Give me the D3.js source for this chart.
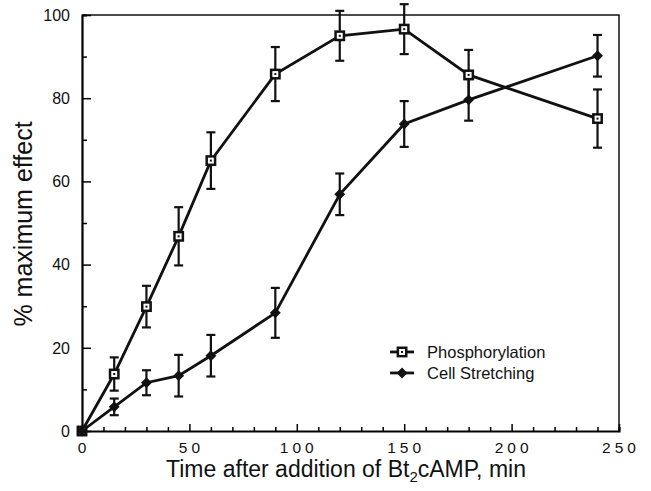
<!DOCTYPE html>
<html>
<head>
<meta charset="utf-8">
<script src="https://cdn.jsdelivr.net/npm/d3@7"></script>
<style>
  body { margin: 0; background: #fff; }
  text { font-family: "Liberation Sans", Arial, sans-serif; fill: #111; }
</style>
</head>
<body>
<div class="chart"></div>
<script>
// time points (min)
const times = [0, 15, 30, 45, 60, 90, 120, 150, 180, 240];
// phosphorylation, % max effect, and error
const phos = [0, 13.7, 29.9, 46.8, 65, 85.8, 95, 96.6, 85.6, 75.1];
const phosErr = [0, 4, 5, 7, 6.8, 6.5, 6, 6, 6, 7];
// cell stretching, % max effect, and error
const stretch = [0, 5.8, 11.6, 13.3, 18.1, 28.4, 56.9, 73.8, 79.6, 90.2];
const stretchErr = [0, 2, 3, 5, 5, 6, 5, 5.5, 5, 5];
const xTicks = [0, 50, 100, 150, 200, 250];
const yTicks = [0, 20, 40, 60, 80, 100];

function chart() {
    const margin = { top: 15, right: 32, bottom: 60, left: 82 },
        width = 651 - margin.left - margin.right,
        height = 491 - margin.top - margin.bottom;

    const svg = d3.select(".chart")
        .append("svg")
        .attr("width", 651)
        .attr("height", 491)
        .append("g")
        .attr("transform", `translate(${margin.left},${margin.top})`);

    const x = d3.scaleLinear().domain([0, 250]).range([0, width]);
    const y = d3.scaleLinear().domain([0, 100]).range([height, 0]);

    // frame: top and right thin
    svg.append("path")
        .attr("d", `M0,0H${width}V${height}`)
        .attr("fill", "none")
        .attr("stroke", "#111")
        .attr("stroke-width", 1.5);

    // x axis, ticks pointing inward
    const xAxis = svg.append("g")
        .attr("transform", `translate(0,${height})`)
        .call(d3.axisTop(x).tickValues(d3.range(0, 251, 10)).tickSize(4).tickFormat(""));
    xAxis.selectAll(".tick line")
        .attr("y2", d => d % 50 === 0 ? -7 : -4)
        .attr("stroke-width", 1.5);
    xAxis.select(".domain").attr("stroke-width", 2.2);

    const ls = 4;
    svg.append("g")
        .selectAll("text")
        .data(xTicks)
        .join("text")
        .attr("x", d => x(d))
        .attr("dx", ls / 2)
        .attr("y", height + 22)
        .attr("text-anchor", "middle")
        .attr("font-size", 15.5)
        .attr("letter-spacing", ls)
        .text(d => d);

    // y axis, ticks pointing inward
    const yAxis = svg.append("g")
        .call(d3.axisRight(y).tickValues(d3.range(0, 101, 10)).tickSize(5).tickFormat(""));
    yAxis.selectAll(".tick line")
        .attr("x2", d => d % 20 === 0 ? 9 : 5)
        .attr("stroke-width", 1.5);
    yAxis.select(".domain").attr("stroke-width", 2.2);

    svg.append("g")
        .selectAll("text")
        .data(yTicks)
        .join("text")
        .attr("x", -12)
        .attr("y", d => y(d))
        .attr("dy", "0.36em")
        .attr("text-anchor", "end")
        .attr("font-size", 16)
        .text(d => d);

    // axis titles
    const xt = svg.append("text")
        .attr("x", 346 - margin.left)
        .attr("y", height + 46)
        .attr("text-anchor", "middle")
        .attr("font-size", 23);
    xt.append("tspan").text("Time after addition of Bt");
    xt.append("tspan").attr("font-size", 15).attr("dy", 5).text("2");
    xt.append("tspan").attr("dy", -5).text("cAMP, min");

    svg.append("text")
        .attr("transform", `translate(-50,${224 - margin.top}) rotate(-90)`)
        .attr("text-anchor", "middle")
        .attr("font-size", 25)
        .text("% maximum effect");

    const line = d3.line()
        .x(d => x(d.t))
        .y(d => y(d.v));

    const series = [
        { name: "Phosphorylation", kind: "square",
          pts: times.map((t, i) => ({ t, v: phos[i], e: phosErr[i] })) },
        { name: "Cell Stretching", kind: "diamond",
          pts: times.map((t, i) => ({ t, v: stretch[i], e: stretchErr[i] })) }
    ];

    series.forEach(s => {
        svg.append("path")
            .datum(s.pts)
            .attr("fill", "none")
            .attr("stroke", "#111")
            .attr("stroke-width", 2.8)
            .attr("d", line);

        const eb = svg.append("g")
            .selectAll("g")
            .data(s.pts.filter(d => d.e > 0))
            .join("g")
            .attr("stroke", "#111")
            .attr("stroke-width", 2.2);
        eb.append("line")
            .attr("x1", d => x(d.t)).attr("x2", d => x(d.t))
            .attr("y1", d => y(d.v + d.e)).attr("y2", d => y(d.v - d.e));
        eb.append("line")
            .attr("x1", d => x(d.t) - 4.5).attr("x2", d => x(d.t) + 4.5)
            .attr("y1", d => y(d.v + d.e)).attr("y2", d => y(d.v + d.e));
        eb.append("line")
            .attr("x1", d => x(d.t) - 4.5).attr("x2", d => x(d.t) + 4.5)
            .attr("y1", d => y(d.v - d.e)).attr("y2", d => y(d.v - d.e));
    });

    // markers on top
    series.forEach(s => {
        const g = svg.append("g");
        s.pts.forEach(d => drawMarker(g, s.kind, x(d.t), y(d.v)));
    });

    // legend
    const lg = svg.append("g").attr("transform", `translate(${x(149)},${y(19)})`);
    series.forEach((s, i) => {
        const gy = i * 21;
        lg.append("line")
            .attr("x1", -12).attr("x2", 12)
            .attr("y1", gy).attr("y2", gy)
            .attr("stroke", "#111")
            .attr("stroke-width", 2.8);
        drawMarker(lg, s.kind, 0, gy);
        lg.append("text")
            .attr("x", 25)
            .attr("y", gy)
            .attr("dy", "0.36em")
            .attr("font-size", 16.5)
            .text(s.name);
    });

    function drawMarker(g, kind, cx, cy) {
        if (kind === "square") {
            g.append("rect")
                .attr("x", cx - 4.2).attr("y", cy - 4.2)
                .attr("width", 8.4).attr("height", 8.4)
                .attr("fill", "#fff")
                .attr("stroke", "#111")
                .attr("stroke-width", 2.5);
            g.append("rect")
                .attr("x", cx - 1).attr("y", cy - 1)
                .attr("width", 2).attr("height", 2)
                .attr("fill", "#111");
        } else {
            g.append("path")
                .attr("d", d3.symbol(d3.symbolDiamond2, 75)())
                .attr("transform", `translate(${cx},${cy})`)
                .attr("fill", "#111");
        }
    }
}
chart();
</script>
</body>
</html>
